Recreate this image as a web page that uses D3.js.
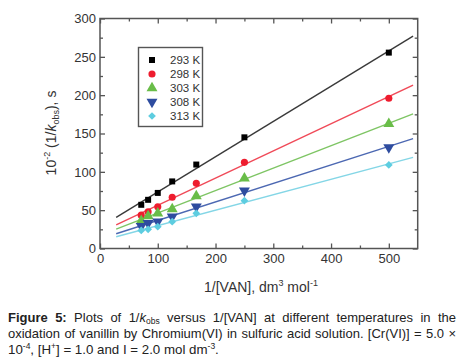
<!DOCTYPE html>
<html><head><meta charset="utf-8">
<script src="https://cdn.jsdelivr.net/npm/d3@7"></script>
<style>
html,body{margin:0;padding:0;background:#fff;}
#wrap{position:relative;width:460px;height:358px;overflow:hidden;}
svg{position:absolute;left:0;top:0;}
.cap{position:absolute;left:8px;width:448px;font-family:"Liberation Sans",Arial,sans-serif;font-size:13px;color:#222;line-height:16px;white-space:nowrap;}
.just{text-align:justify;text-align-last:justify;white-space:normal;}
.cap sub,.cap sup{font-size:8.5px;line-height:0;}
.cap sub{vertical-align:-2px;}
</style></head>
<body><div id="wrap"><svg id="chart" width="460" height="358"></svg>
<div class="cap just" style="top:310px"><b>Figure 5:</b> Plots of 1/<i>k</i><sub>obs</sub> versus 1/[VAN] at different temperatures in the</div>
<div class="cap just" style="top:326px">oxidation of vanillin by Chromium(VI) in sulfuric acid solution. [Cr(VI)] = 5.0 ×</div>
<div class="cap" style="top:342px;font-size:13.3px">10<sup>-4</sup>, [H<sup>+</sup>] = 1.0 and I = 2.0 mol dm<sup>-3</sup>.</div>
</div>
<script>
// ---- data ----
const xInv = [71.4, 83.3, 100, 125, 166.7, 250, 500]; // 1/[VAN]
const seriesNames = ["293 K", "298 K", "303 K", "308 K", "313 K"];
const v293 = [57, 63.5, 72.5, 87.5, 109.5, 145, 255.5];
const v298 = [43.5, 48, 54.5, 66.8, 85, 112.4, 196];
const v303 = [36, 42.4, 46, 51.5, 68.5, 91.5, 162.5];
const v308 = [29, 33, 35, 41.5, 54.5, 75.4, 132];
const v313 = [23.5, 25, 28.4, 35, 45.9, 62.3, 109];
const seriesValues = [v293, v298, v303, v308, v313];
const markerColors = ["#000000", "#ee1c2e", "#69bd48", "#2e4c9f", "#5dcde0"];
const lineColors = ["#3a3a3a", "#f04a58", "#7ec564", "#4c68b2", "#84d6e6"];
const symbolKinds = ["square", "circle", "up", "down", "diamond"];
const fitRange = [28, 542];
const xTicks = [0, 100, 200, 300, 400, 500];
const yTicks = [0, 50, 100, 150, 200, 250, 300];

const svg = d3.select("#chart");
const x = d3.scaleLinear().domain([0, 550]).range([100, 417.7]);
const y = d3.scaleLinear().domain([0, 300]).range([248.5, 18.5]);
const axisColor = "#555";
const font = "'Liberation Sans', Arial, sans-serif";

function styleAxis(g, labels) {
  g.select(".domain").remove();
  g.selectAll(".tick line").attr("stroke", axisColor).attr("stroke-width", 1.3);
  g.selectAll(".tick text").attr("fill", "#333").attr("font-size", 13).attr("font-family", font);
  if (!labels) g.selectAll(".tick text").remove();
}
const minorX = d3.range(50, 550, 100);
const minorY = d3.range(25, 300, 50);

// bottom
svg.append("g").attr("transform", `translate(0,${y(0)})`)
  .call(d3.axisBottom(x).tickValues(xTicks).tickSize(-5).tickPadding(5).tickFormat(d3.format("d")))
  .call(g => styleAxis(g, true));
svg.append("g").attr("transform", `translate(0,${y(0)})`)
  .call(d3.axisBottom(x).tickValues(minorX).tickSize(-3)).call(g => styleAxis(g, false));
// top
svg.append("g").attr("transform", `translate(0,${y(300)})`)
  .call(d3.axisTop(x).tickValues(xTicks).tickSize(-5)).call(g => styleAxis(g, false));
svg.append("g").attr("transform", `translate(0,${y(300)})`)
  .call(d3.axisTop(x).tickValues(minorX).tickSize(-3)).call(g => styleAxis(g, false));
// left
svg.append("g").attr("transform", `translate(${x(0)},0)`)
  .call(d3.axisLeft(y).tickValues(yTicks).tickSize(-5).tickPadding(4).tickFormat(d3.format("d")))
  .call(g => styleAxis(g, true));
svg.append("g").attr("transform", `translate(${x(0)},0)`)
  .call(d3.axisLeft(y).tickValues(minorY).tickSize(-3)).call(g => styleAxis(g, false));
// right
svg.append("g").attr("transform", `translate(${x(550)},0)`)
  .call(d3.axisRight(y).tickValues(yTicks).tickSize(-5)).call(g => styleAxis(g, false));
svg.append("g").attr("transform", `translate(${x(550)},0)`)
  .call(d3.axisRight(y).tickValues(minorY).tickSize(-3)).call(g => styleAxis(g, false));

// frame
svg.append("rect").attr("x", x(0)).attr("y", y(300)).attr("width", x(550) - x(0)).attr("height", y(0) - y(300))
  .attr("fill", "none").attr("stroke", axisColor).attr("stroke-width", 1.5);

// fit lines (least squares)
function fit(xs, ys) {
  const mx = d3.mean(xs), my = d3.mean(ys);
  let sxy = 0, sxx = 0;
  xs.forEach((xv, i) => { sxy += (xv - mx) * (ys[i] - my); sxx += (xv - mx) ** 2; });
  const b = sxy / sxx; return { a: my - b * mx, b };
}
const line = d3.line().x(d => x(d[0])).y(d => y(d[1]));
seriesValues.forEach((vals, i) => {
  const f = fit(xInv, vals);
  svg.append("path").datum(fitRange.map(xv => [xv, f.a + f.b * xv]))
    .attr("d", line).attr("fill", "none").attr("stroke", lineColors[i]).attr("stroke-width", 1.4);
});

function markerShape(kind) {
  switch (kind) {
    case "square": return { d: d3.symbol(d3.symbolSquare, 36)(), rot: 0 };
    case "circle": return { d: d3.symbol(d3.symbolCircle, 40)(), rot: 0 };
    case "up": return { d: d3.symbol(d3.symbolTriangle, 52)(), rot: 0 };
    case "down": return { d: d3.symbol(d3.symbolTriangle, 52)(), rot: 180 };
    default: return { d: d3.symbol(d3.symbolSquare, 30)(), rot: 45 };
  }
}
function drawMarker(g, i, cx, cy) {
  const s = markerShape(symbolKinds[i]);
  g.append("path").attr("d", s.d)
    .attr("fill", markerColors[i])
    .attr("transform", `translate(${cx},${cy}) rotate(${s.rot})`);
}
seriesValues.forEach((vals, i) => {
  const g = svg.append("g");
  vals.forEach((v, j) => drawMarker(g, i, x(xInv[j]), y(v)));
});

// legend
const lg = svg.append("g");
lg.append("rect").attr("x", 138.5).attr("y", 47.5).attr("width", 64).attr("height", 79)
  .attr("fill", "#fff").attr("stroke", "#555").attr("stroke-width", 1.4);
seriesNames.forEach((n, i) => {
  const cy = 60 + i * 14;
  drawMarker(lg, i, 152, cy);
  lg.append("text").attr("x", 170).attr("y", cy + 4).text(n)
    .attr("font-size", 11.5).attr("font-family", font).attr("fill", "#333");
});

// axis titles
const yt = svg.append("text").attr("transform", "translate(56,133) rotate(-90)")
  .attr("text-anchor", "middle").attr("font-size", 14).attr("font-family", font).attr("fill", "#333");
yt.append("tspan").text("10");
yt.append("tspan").attr("font-size", 9).attr("dy", -6).text("-2");
yt.append("tspan").attr("dy", 6).text(" (1/");
yt.append("tspan").attr("font-style", "italic").text("k");
yt.append("tspan").attr("font-size", 9).attr("dy", 3).text("obs");
yt.append("tspan").attr("dy", -3).text("), s");

const xt = svg.append("text").attr("x", 261).attr("y", 292)
  .attr("text-anchor", "middle").attr("font-size", 14).attr("font-family", font).attr("fill", "#333");
xt.append("tspan").text("1/[VAN], dm");
xt.append("tspan").attr("font-size", 9).attr("dy", -6).text("3");
xt.append("tspan").attr("dy", 6).text(" mol");
xt.append("tspan").attr("font-size", 9).attr("dy", -6).text("-1");
</script>
</body></html>
